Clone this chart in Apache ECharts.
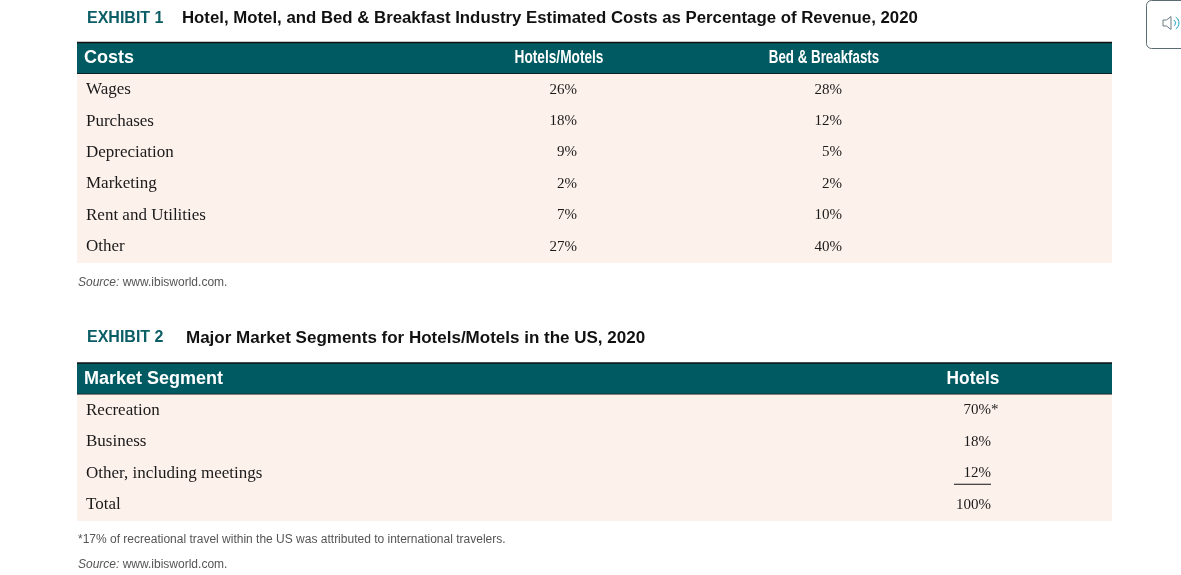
<!DOCTYPE html>
<html>
<head>
<meta charset="utf-8">
<script src="https://cdn.jsdelivr.net/npm/echarts@6/dist/echarts.min.js"></script>
<style>
    html, body { margin: 0; padding: 0; background: #fff; }
    #mains { width: 1181px; height: 575px; }
</style>
</head>
<body>
<div id="mains"></div>
<script>
    // exhibit 1 - costs as % of revenue
    var costHead = ['Costs', 'Hotels/Motels', 'Bed & Breakfasts'];
    var costRows = ['Wages', 'Purchases', 'Depreciation', 'Marketing', 'Rent and Utilities', 'Other'];
    var hotelsMotels = [26, 18, 9, 2, 7, 27];
    var bedBreakfasts = [28, 12, 5, 2, 10, 40];

    // exhibit 2 - market segments
    var segHead = ['Market Segment', 'Hotels'];
    var segRows = ['Recreation', 'Business', 'Other, including meetings', 'Total'];
    var hotelsShare = [70, 18, 12, 100];
    var shareNote = ['*', '', '', ''];

    var TEAL = '#005a62';
    var PINK = '#fdf1ec';
    var SANS = "'Liberation Sans', Arial, sans-serif";
    var SERIF = "'Liberation Serif', 'Times New Roman', serif";

    function rowIdx(list) {
        var out = [];
        for (var i = 0; i <= list.length; i++) out.push([0, i]);
        return out;
    }

    function rowLabel(value, index) {
        return index == 0 ? '{h|' + value + '}' : '{b|' + value + '}';
    }

    function rowBox(params, api) {
        var cs = params.coordSys;
        var c = api.coord([0, api.value(1)]);
        var h = api.size([0, 1])[1];
        return {x: cs.x, y: c[1] - h / 2, w: cs.width, h: h, cy: c[1]};
    }

    function headerBand(b) {
        return [
            {type: 'rect', shape: {x: b.x, y: b.y, width: b.w, height: b.h + 0.5}, style: {fill: TEAL}},
            {type: 'line', shape: {x1: b.x, y1: b.y, x2: b.x + b.w, y2: b.y}, style: {stroke: '#111', lineWidth: 1.5}},
            {type: 'line', shape: {x1: b.x, y1: b.y + b.h, x2: b.x + b.w, y2: b.y + b.h}, style: {stroke: '#111', lineWidth: 1.5}}
        ];
    }

    function cellText(text, x, y, align) {
        return {type: 'text', style: {text: text, x: x, y: y, fill: '#1a1a1a', font: '15px ' + SERIF, align: align, verticalAlign: 'middle'}};
    }

    // header text, squeezed horizontally when the column font is narrow
    function headText(text, x, y, squeeze) {
        return {type: 'text', x: x, y: y, scaleX: squeeze, scaleY: 1,
            style: {text: text, x: 0, y: 0, fill: '#fff', font: 'bold 18px ' + SANS, align: 'center', verticalAlign: 'middle'}};
    }

    function renderCosts(params, api) {
        var b = rowBox(params, api);
        var i = api.value(1);
        var kids;
        if (i == 0) {
            kids = headerBand(b);
            kids.push(headText(costHead[1], b.x + 482, b.cy, 0.76));
            kids.push(headText(costHead[2], b.x + 747, b.cy, 0.74));
        } else {
            kids = [{type: 'rect', shape: {x: b.x, y: b.y, width: b.w, height: b.h + 0.5}, style: {fill: PINK}}];
            kids.push(cellText(hotelsMotels[i - 1] + '%', b.x + 500, b.cy, 'right'));
            kids.push(cellText(bedBreakfasts[i - 1] + '%', b.x + 765, b.cy, 'right'));
        }
        return {type: 'group', children: kids};
    }

    function renderSegments(params, api) {
        var b = rowBox(params, api);
        var i = api.value(1);
        var kids;
        if (i == 0) {
            kids = headerBand(b);
            kids.push(headText(segHead[1], b.x + 896, b.cy, 0.96));
        } else {
            kids = [{type: 'rect', shape: {x: b.x, y: b.y, width: b.w, height: b.h + 0.5}, style: {fill: PINK}}];
            kids.push(cellText(hotelsShare[i - 1] + '%', b.x + 914, b.cy, 'right'));
            if (shareNote[i - 1]) kids.push(cellText(shareNote[i - 1], b.x + 914, b.cy, 'left'));
            if (i == segRows.length - 1) {
                kids.push({type: 'line', shape: {x1: b.x + 877, y1: b.cy + 11, x2: b.x + 914, y2: b.cy + 11},
                    style: {stroke: '#111', lineWidth: 1}});
            }
        }
        return {type: 'group', children: kids};
    }

    function yAxisFor(gridIndex, data) {
        return {
            type: 'category', gridIndex: gridIndex, inverse: true, data: data, z: 5,
            axisLine: {show: false}, axisTick: {show: false}, splitLine: {show: false},
            axisLabel: {
                inside: true, margin: 7, interval: 0, formatter: rowLabel,
                rich: {
                    h: {color: '#fff', fontFamily: SANS, fontSize: 18, fontWeight: 'bold'},
                    b: {color: '#1a1a1a', fontFamily: SERIF, fontSize: 17, padding: [0, 0, 0, 2]}
                }
            }
        };
    }

    var sourceRich = {
        i: {fontStyle: 'italic', fontWeight: 'normal', color: '#555', fontFamily: SANS, fontSize: 12},
        n: {fontWeight: 'normal', color: '#555', fontFamily: SANS, fontSize: 12}
    };

    var myChart = echarts.init(document.getElementById('mains'));
    myChart.setOption({
        animation: false,
        title: [
            {text: 'EXHIBIT 1', left: 87, top: 8.5, padding: 0,
                textStyle: {color: '#0b5d66', fontFamily: SANS, fontSize: 16, fontWeight: 'bold', lineHeight: 20}},
            {text: 'Hotel, Motel, and Bed & Breakfast Industry Estimated Costs as Percentage of Revenue, 2020', left: 182, top: 8.5, padding: 0,
                textStyle: {color: '#111', fontFamily: SANS, fontSize: 16.8, fontWeight: 'bold', lineHeight: 20}},
            {text: '{i|Source:}{n| www.ibisworld.com.}', left: 78, top: 276, padding: 0,
                textStyle: {lineHeight: 14, rich: sourceRich}},
            {text: 'EXHIBIT 2', left: 87, top: 328, padding: 0,
                textStyle: {color: '#0b5d66', fontFamily: SANS, fontSize: 16, fontWeight: 'bold', lineHeight: 20}},
            {text: 'Major Market Segments for Hotels/Motels in the US, 2020', left: 186, top: 328, padding: 0,
                textStyle: {color: '#111', fontFamily: SANS, fontSize: 17, fontWeight: 'bold', lineHeight: 20}},
            {text: '{n|*17% of recreational travel within the US was attributed to international travelers.}', left: 78, top: 533, padding: 0,
                textStyle: {lineHeight: 14, rich: sourceRich}},
            {text: '{i|Source:}{n| www.ibisworld.com.}', left: 78, top: 558, padding: 0,
                textStyle: {lineHeight: 14, rich: sourceRich}}
        ],
        grid: [
            {left: 77, width: 1035, top: 42.5, height: 220},
            {left: 77, width: 1035, top: 363, height: 157.5}
        ],
        xAxis: [
            {type: 'value', gridIndex: 0, min: 0, max: 1, show: false},
            {type: 'value', gridIndex: 1, min: 0, max: 1, show: false}
        ],
        yAxis: [
            yAxisFor(0, costHead.slice(0, 1).concat(costRows)),
            yAxisFor(1, segHead.slice(0, 1).concat(segRows))
        ],
        series: [
            {type: 'custom', xAxisIndex: 0, yAxisIndex: 0, renderItem: renderCosts,
                encode: {x: 0, y: 1}, data: rowIdx(costRows)},
            {type: 'custom', xAxisIndex: 1, yAxisIndex: 1, renderItem: renderSegments,
                encode: {x: 0, y: 1}, data: rowIdx(segRows)}
        ],
        graphic: [
            {type: 'rect', shape: {x: 1146.5, y: 0.5, width: 50, height: 48, r: 5},
                style: {fill: '#fff', stroke: '#5b6b73', lineWidth: 1}},
            {type: 'polygon', shape: {points: [[1163, 20], [1166.5, 20], [1171, 16.5], [1171, 29.5], [1166.5, 26], [1163, 26]]},
                style: {fill: 'none', stroke: '#6b7b83', lineWidth: 1}},
            {type: 'arc', shape: {cx: 1172, cy: 23, r: 3.5, startAngle: -1.0, endAngle: 1.0},
                style: {fill: 'none', stroke: '#1ea0c8', lineWidth: 1}},
            {type: 'arc', shape: {cx: 1172, cy: 23, r: 7, startAngle: -1.0, endAngle: 1.0},
                style: {fill: 'none', stroke: '#1ea0c8', lineWidth: 1}}
        ]
    });
</script>
</body>
</html>
